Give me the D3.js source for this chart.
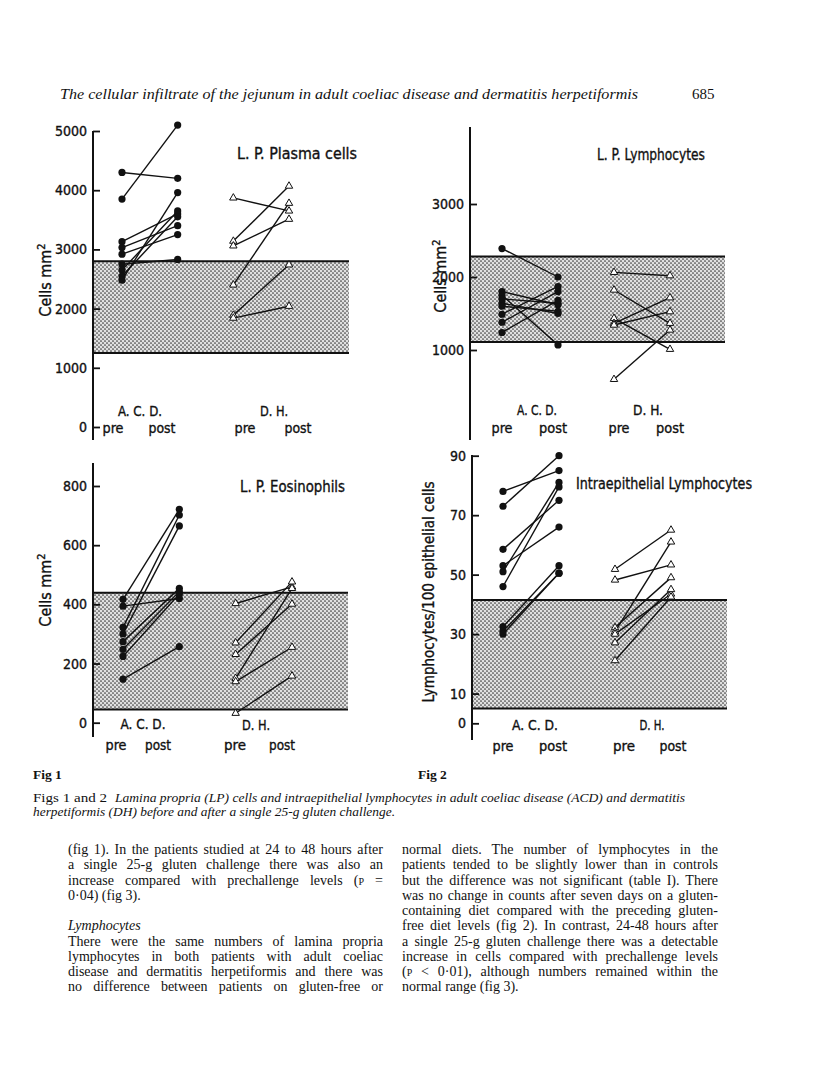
<!DOCTYPE html>
<html>
<head>
<meta charset="utf-8">
<script src="https://cdn.jsdelivr.net/npm/d3@7"></script>
<style>
  body { margin: 0; background: #fff; }
  .sans { font-family: "DejaVu Sans Condensed", "Liberation Sans Narrow", "Roboto Condensed", Roboto, sans-serif; fill: #111; stroke: #111; stroke-width: 0.35px; }
  .serif { font-family: "Liberation Serif", "DejaVu Serif", serif; fill: #111; }
</style>
</head>
<body>
<svg id="page" width="816" height="1086"></svg>
<script>
// ---- data ----
const groups = ["acdPre", "acdPost", "dhPre", "dhPost"];

// Fig 1, L.P. plasma cells (cells/mm2)
const plasmaTicks = [0, 1000, 2000, 3000, 4000, 5000];
const plasmaNormal = [1250, 2800];
const plasmaAcdPre  = [4300, 3850, 3130, 3030, 2920, 2750, 2650, 2550, 2480];
const plasmaAcdPost = [4200, 5100, 3600, 3400, 3250, 2830, 3650, 3550, 3960];
const plasmaDhPre   = [3870, 3140, 3060, 2400, 1890, 1840];
const plasmaDhPost  = [3650, 4070, 3510, 3780, 2740, 2040];

// Fig 1, L.P. eosinophils (cells/mm2)
const eosTicks = [0, 200, 400, 600, 800];
const eosNormal = [45, 439];
const eosAcdPre  = [417, 394, 322, 300, 274, 248, 224, 147];
const eosAcdPost = [721, 420, 702, 665, 454, 443, 435, 257];
const eosDhPre   = [403, 270, 231, 150, 139, 32];
const eosDhPost  = [459, 476, 401, 454, 255, 158];

// Fig 2, L.P. lymphocytes (cells/mm2)
const lymTicks = [1000, 2000, 3000];
const lymNormal = [1110, 2280];
const lymAcdPre  = [2390, 1800, 1750, 1700, 1640, 1600, 1490, 1380, 1240];
const lymAcdPost = [2000, 1620, 1070, 1640, 1500, 1530, 1870, 1800, 1680];
const lymDhPre   = [2064, 1822, 1434, 1366, 1342, 598];
const lymDhPost  = [2018, 1366, 1010, 1716, 1525, 1274];

// Fig 2, intraepithelial lymphocytes (per 100 epithelial cells)
const ielTicks = [0, 10, 30, 50, 70, 90];
const ielNormal = [5, 41.5];
const ielAcdPre  = [78, 73, 58.5, 53, 51, 46, 32.5, 31, 30];
const ielAcdPost = [85, 90, 75, 66, 81, 79.5, 53, 50.5, 50.5];
const ielDhPre   = [51.8, 48.2, 32.2, 30.8, 30, 27.1, 21.1];
const ielDhPost  = [65, 53.3, 49, 61, 43.5, 45, 42.5];

// ---- page ----
const svg = d3.select("#page");

// stippled fill for the normal range
const defs = svg.append("defs");
const pat = defs.append("pattern")
  .attr("id", "stipple")
  .attr("patternUnits", "userSpaceOnUse")
  .attr("width", 4).attr("height", 4);
pat.append("rect").attr("width", 4).attr("height", 4).attr("fill", "#e0e0e0");
pat.append("circle").attr("cx", 1).attr("cy", 1).attr("r", 0.85).attr("fill", "#3a3a3a");
pat.append("circle").attr("cx", 3).attr("cy", 3).attr("r", 0.85).attr("fill", "#3a3a3a");

const panels = [
  {
    title: "L. P.  Plasma cells", titleX: 237, titleY: 159, titleW: 120,
    axisX: 93, axisTop: 131, axisBot: 440, bandRight: 349,
    domain: [0, 5000], range: [427, 131], px: [122, 289],
    ticks: plasmaTicks, normal: plasmaNormal,
    acd: [plasmaAcdPre, plasmaAcdPost], dh: [plasmaDhPre, plasmaDhPost],
    ylabel: "cells", ylx: 45, yly: 280,
    labels: [["A. C. D.", 140, 416, 44], ["pre", 113, 433, 21], ["post", 162, 433, 27],
             ["D. H.", 274, 416, 28], ["pre", 245, 433, 21], ["post", 298, 433, 27]]
  },
  {
    title: "L. P. Lymphocytes", titleX: 597, titleY: 160, titleW: 108,
    axisX: 470, axisTop: 127, axisBot: 440, bandRight: 725,
    domain: [1000, 3000], range: [350, 204], px: [502, 670],
    ticks: lymTicks, normal: lymNormal,
    acd: [lymAcdPre, lymAcdPost], dh: [lymDhPre, lymDhPost],
    ylabel: "cells", ylx: 440, yly: 276,
    labels: [["A. C. D.", 537, 415, 40], ["pre", 502, 433, 21], ["post", 553, 433, 28],
             ["D. H.", 648, 415, 30], ["pre", 619, 433, 21], ["post", 670, 433, 28]]
  },
  {
    title: "L. P. Eosinophils", titleX: 240, titleY: 492, titleW: 105,
    axisX: 93, axisTop: 463, axisBot: 737, bandRight: 348,
    domain: [0, 800], range: [722.7, 486], px: [123, 292],
    ticks: eosTicks, normal: eosNormal,
    acd: [eosAcdPre, eosAcdPost], dh: [eosDhPre, eosDhPost],
    ylabel: "cells", ylx: 45, yly: 590,
    labels: [["A. C. D.", 143, 729, 45], ["pre", 116, 750, 21], ["post", 158, 750, 26],
             ["D. H.", 256, 730, 28], ["pre", 235, 750, 22], ["post", 282, 750, 26]]
  },
  {
    title: "Intraepithelial Lymphocytes", titleX: 576, titleY: 489, titleW: 176,
    axisX: 472, axisTop: 455, axisBot: 740, bandRight: 727,
    domain: [0, 90], range: [723.3, 455.7], px: [503, 671],
    ticks: ielTicks, normal: ielNormal,
    acd: [ielAcdPre, ielAcdPost], dh: [ielDhPre, ielDhPost],
    ylabel: "iel", ylx: 428, yly: 592,
    labels: [["A. C. D.", 535, 730, 46], ["pre", 503, 751, 21], ["post", 553, 751, 28],
             ["D. H.", 652, 730, 25], ["pre", 624, 751, 22], ["post", 673, 751, 27]]
  }
];

panels.forEach(p => {
  const g = svg.append("g");
  const y = d3.scaleLinear().domain(p.domain).range(p.range);
  const x = d3.scalePoint().domain(groups).range(p.px);

  // normal range band
  g.append("rect")
    .attr("x", p.axisX)
    .attr("y", y(p.normal[1]))
    .attr("width", p.bandRight - p.axisX)
    .attr("height", y(p.normal[0]) - y(p.normal[1]))
    .attr("fill", "url(#stipple)");
  p.normal.forEach(v => {
    g.append("line")
      .attr("x1", p.axisX).attr("x2", p.bandRight)
      .attr("y1", y(v)).attr("y2", y(v))
      .attr("stroke", "#111").attr("stroke-width", 2);
  });

  // axis
  const axis = d3.axisLeft(y).tickValues(p.ticks).tickFormat(d3.format("d"))
    .tickSizeInner(-7).tickSizeOuter(0).tickPadding(6);
  const ag = g.append("g").attr("transform", `translate(${p.axisX},0)`).call(axis);
  ag.select(".domain").remove();
  ag.selectAll(".tick line").attr("stroke", "#111").attr("stroke-width", 1.8);
  ag.selectAll(".tick text").attr("class", "sans").style("font-size", "14px");
  g.append("line")
    .attr("x1", p.axisX).attr("x2", p.axisX)
    .attr("y1", p.axisTop).attr("y2", p.axisBot)
    .attr("stroke", "#111").attr("stroke-width", 2);

  // paired lines
  const pairs = [];
  p.acd[0].forEach((v, i) => pairs.push({ a: ["acdPre", v], b: ["acdPost", p.acd[1][i]] }));
  p.dh[0].forEach((v, i) => pairs.push({ a: ["dhPre", v], b: ["dhPost", p.dh[1][i]] }));
  g.selectAll("line.pair").data(pairs).enter().append("line")
    .attr("class", "pair")
    .attr("x1", d => x(d.a[0])).attr("y1", d => y(d.a[1]))
    .attr("x2", d => x(d.b[0])).attr("y2", d => y(d.b[1]))
    .attr("stroke", "#111").attr("stroke-width", 1.4);

  // adult coeliac disease: filled dots
  const acdPts = p.acd[0].map(v => ["acdPre", v]).concat(p.acd[1].map(v => ["acdPost", v]));
  g.selectAll("circle.acd").data(acdPts).enter().append("circle")
    .attr("class", "acd")
    .attr("cx", d => x(d[0])).attr("cy", d => y(d[1]))
    .attr("r", 3.6).attr("fill", "#111");

  // dermatitis herpetiformis: open triangles
  const tri = d3.symbol(d3.symbolTriangle, 24);
  const dhPts = p.dh[0].map(v => ["dhPre", v]).concat(p.dh[1].map(v => ["dhPost", v]));
  g.selectAll("path.dh").data(dhPts).enter().append("path")
    .attr("class", "dh")
    .attr("d", tri)
    .attr("transform", d => `translate(${x(d[0])},${y(d[1])})`)
    .attr("fill", "#fff").attr("stroke", "#111").attr("stroke-width", 1);

  // title
  g.append("text").attr("class", "sans")
    .attr("x", p.titleX).attr("y", p.titleY)
    .attr("textLength", p.titleW).attr("lengthAdjust", "spacingAndGlyphs")
    .style("font-size", "16px")
    .text(p.title);

  // group labels
  p.labels.forEach(l => {
    g.append("text").attr("class", "sans")
      .attr("x", l[1] - l[3] / 2).attr("y", l[2])
      .attr("textLength", l[3]).attr("lengthAdjust", "spacingAndGlyphs")
      .style("font-size", "14.5px")
      .text(l[0]);
  });

  // y label
  const yl = g.append("text").attr("class", "sans")
    .attr("transform", `translate(${p.ylx},${p.yly}) rotate(-90)`)
    .attr("text-anchor", "middle")
    .attr("dy", "0.35em")
    .style("font-size", "16px");
  if (p.ylabel === "cells") {
    yl.append("tspan").text("Cells mm");
    yl.append("tspan").attr("baseline-shift", "super").style("font-size", "11px").text("2");
  } else {
    yl.attr("textLength", 221).attr("lengthAdjust", "spacingAndGlyphs")
      .text("Lymphocytes/100 epithelial cells");
  }
});

// ---- running head ----
svg.append("text").attr("class", "serif")
  .attr("x", 60).attr("y", 99)
  .attr("textLength", 578).attr("lengthAdjust", "spacingAndGlyphs")
  .style("font-size", "15px").style("font-style", "italic")
  .text("The cellular infiltrate of the jejunum in adult coeliac disease and dermatitis herpetiformis");
svg.append("text").attr("class", "serif")
  .attr("x", 692).attr("y", 99)
  .style("font-size", "15px")
  .text("685");

// ---- figure labels and caption ----
svg.append("text").attr("class", "serif").attr("x", 33).attr("y", 779)
  .style("font-size", "13.5px").style("font-weight", "bold").text("Fig 1");
svg.append("text").attr("class", "serif").attr("x", 418).attr("y", 779)
  .style("font-size", "13.5px").style("font-weight", "bold").text("Fig 2");

svg.append("text").attr("class", "serif").attr("x", 33).attr("y", 802)
  .attr("textLength", 74).attr("lengthAdjust", "spacingAndGlyphs")
  .style("font-size", "13.5px").text("Figs 1 and 2");
svg.append("text").attr("class", "serif").attr("x", 115).attr("y", 802)
  .attr("textLength", 570).attr("lengthAdjust", "spacingAndGlyphs")
  .style("font-size", "13.5px").style("font-style", "italic")
  .text("Lamina propria (LP) cells and intraepithelial lymphocytes in adult coeliac disease (ACD) and dermatitis");
svg.append("text").attr("class", "serif").attr("x", 33).attr("y", 816)
  .attr("textLength", 362).attr("lengthAdjust", "spacingAndGlyphs")
  .style("font-size", "13.5px").style("font-style", "italic")
  .text("herpetiformis (DH) before and after a single 25-g gluten challenge.");

// ---- body text ----
const leftLines = [
  ["(fig 1). In the patients studied at 24 to 48 hours after", 0, true],
  ["a single 25-g gluten challenge there was also an", 1, true],
  ["increase compared with prechallenge levels (|P| =", 2, true],
  ["0·04) (fig 3).", 3, false],
  ["*Lymphocytes", 5, false],
  ["There were the same numbers of lamina propria", 6, true],
  ["lymphocytes in both patients with adult coeliac", 7, true],
  ["disease and dermatitis herpetiformis and there was", 8, true],
  ["no difference between patients on gluten-free or", 9, true]
];
const rightLines = [
  ["normal diets. The number of lymphocytes in the", 0, true],
  ["patients tended to be slightly lower than in controls", 1, true],
  ["but the difference was not significant (table I). There", 2, true],
  ["was no change in counts after seven days on a gluten-", 3, true],
  ["containing diet compared with the preceding gluten-", 4, true],
  ["free diet levels (fig 2). In contrast, 24-48 hours after", 5, true],
  ["a single 25-g gluten challenge there was a detectable", 6, true],
  ["increase in cells compared with prechallenge levels", 7, true],
  ["(|P| < 0·01), although numbers remained within the", 8, true],
  ["normal range (fig 3).", 9, false]
];

function column(lines, x0, width) {
  lines.forEach(([s, row, just]) => {
    const t = svg.append("text").attr("class", "serif")
      .attr("x", x0).attr("y", 854 + row * 15.25)
      .style("font-size", "14px");
    if (s.startsWith("*")) {
      t.style("font-style", "italic");
      s = s.slice(1);
    }
    s.split("|").forEach((part, i) => {
      const ts = t.append("tspan").text(part);
      if (i % 2 === 1) ts.style("font-size", "10px");
    });
    if (just) {
      // justify by widening the word gaps
      const natural = t.node().getComputedTextLength();
      const gaps = (s.match(/ /g) || []).length;
      if (natural > width) {
        t.attr("textLength", width).attr("lengthAdjust", "spacingAndGlyphs");
      } else if (gaps) {
        t.attr("word-spacing", (width - natural) / gaps);
      }
    }
  });
}
column(leftLines, 68, 315);
column(rightLines, 402, 316);
</script>
</body>
</html>
